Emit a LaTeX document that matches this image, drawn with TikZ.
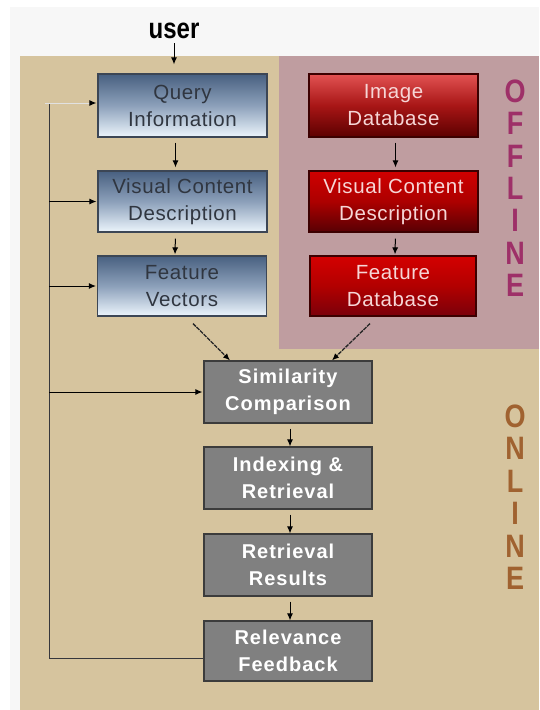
\documentclass[tikz,border=0pt]{standalone}
\usepackage{fontspec}
\setmainfont{Liberation Sans}
\newfontfamily\boxfont[LetterSpace=3]{Liberation Sans}
\newfontfamily\boxfontb[LetterSpace=5]{Liberation Sans Bold}
\newfontfamily\labfont{Liberation Sans Bold}
\usetikzlibrary{calc,arrows.meta}
\definecolor{lightbg}{RGB}{247,247,247}
\definecolor{tanbg}{RGB}{214,196,158}
\definecolor{pinkbg}{RGB}{191,157,160}
\definecolor{bluedraw}{RGB}{60,70,85}
\definecolor{bluetext}{RGB}{48,54,64}
\definecolor{bluetop}{RGB}{72,96,128}
\definecolor{bluemid}{RGB}{140,160,186}
\definecolor{bluebot}{RGB}{236,245,252}
\definecolor{reddraw}{RGB}{60,0,0}
\definecolor{redtext}{RGB}{246,214,214}
\definecolor{greyfill}{RGB}{128,128,128}
\definecolor{greydraw}{RGB}{60,60,60}
\definecolor{offcol}{RGB}{158,48,104}
\definecolor{oncol}{RGB}{160,98,48}
\definecolor{fbcol}{RGB}{55,55,60}
\definecolor{fblight}{RGB}{225,225,225}
\begin{document}
\begin{tikzpicture}[x=1pt,y=-1pt,
  box/.style={draw, line width=1.2pt, minimum width=169pt, minimum height=62pt,
    inner sep=0pt, align=center, font=\fontsize{20.5}{27}\selectfont\boxfont},
  bluebox/.style={box, draw=bluedraw, text=bluetext,
    top color=bluetop, bottom color=bluebot, middle color=bluemid},
  redbox/.style={box, draw=reddraw, text=redtext},
  greybox/.style={box, minimum width=168pt, draw=greydraw, fill=greyfill, text=white,
    font=\fontsize{20}{27}\selectfont\boxfontb},
  arr/.style={-{Latex[length=7pt,width=6pt,color=black]}, line width=1pt, black},
  diag/.style={arr, line width=1.3pt, color=black!85, dash pattern=on 4pt off 1pt},
  fbline/.style={line width=1pt, fbcol},
  sidelab/.style={inner sep=0pt, font=\fontsize{27}{27}\selectfont\labfont}
]
\useasboundingbox (0,0) rectangle (539,710);
\fill[white] (0,0) rectangle (539,710);
\fill[lightbg] (10,7) rectangle (539,710);
\fill[tanbg] (20,56) rectangle (539,710);
\fill[pinkbg] (279,56) rectangle (539,349);

% user label
\node[inner sep=0pt, anchor=south, font=\fontsize{24}{24}\selectfont\labfont] (user) at (174,39)
  {\scalebox{1}[1.2]{user}};

% left column
\node[bluebox, minimum height=63pt] (query) at (182.5,105.5) {Query\\Information};
\node[bluebox, minimum height=61pt] (vcd) at (182.5,201.5) {Visual Content\\Description};
\node[bluebox, minimum height=60pt] (fv) at (182,286) {Feature\\Vectors};

% right column
\node[redbox, minimum height=63pt,
  top color={rgb,255:red,226;green,82;blue,82}, bottom color={rgb,255:red,92;green,0;blue,0},
  middle color={rgb,255:red,168;green,22;blue,22}] (imgdb) at (393.5,105.5) {Image\\Database};
\node[redbox, minimum height=61pt,
  top color={rgb,255:red,208;green,0;blue,0}, bottom color={rgb,255:red,88;green,0;blue,4},
  middle color={rgb,255:red,172;green,0;blue,0}] (vcdr) at (393.5,201.5) {Visual Content\\Description};
\node[redbox, minimum width=166pt, minimum height=60pt,
  top color={rgb,255:red,212;green,0;blue,0}, bottom color={rgb,255:red,122;green,0;blue,10},
  middle color={rgb,255:red,178;green,0;blue,0}] (fdb) at (393,286) {Feature\\Database};

% grey column
\node[greybox] (sim) at (288,392) {Similarity\\Comparison};
\node[greybox] (idx) at (288,478) {Indexing \&\\Retrieval};
\node[greybox] (res) at (288,565) {Retrieval\\Results};
\node[greybox, minimum height=60pt] (rel) at (288,651) {Relevance\\Feedback};

% side labels
\node[sidelab, text=offcol] (offline) at (515,193)
  {\scalebox{1}[1.2]{\begin{tabular}{@{}c@{}}O\\F\\F\\L\\I\\N\\E\end{tabular}}};
\node[sidelab, text=oncol] (online) at (515,502)
  {\scalebox{1}[1.2]{\begin{tabular}{@{}c@{}}O\\N\\L\\I\\N\\E\end{tabular}}};

% arrows
\draw[arr, shorten <=4pt, shorten >=9pt] (user.south) -- (query.north -| user.south);
\draw[arr, shorten <=5pt, shorten >=3pt] ([xshift=-7pt]query.south) -- ([xshift=-7pt]vcd.north);
\draw[arr, shorten <=6pt, shorten >=1pt] ([xshift=-7pt]vcd.south) -- ([xshift=-7pt]fv.north);
\draw[arr, shorten <=5pt, shorten >=3pt] ([xshift=2pt]imgdb.south) -- ([xshift=2pt]vcdr.north);
\draw[arr, shorten <=6pt, shorten >=1pt] ([xshift=2pt]vcdr.south) -- ([xshift=2pt]fdb.north);
\draw[arr, shorten <=5pt] ([xshift=2pt]sim.south) -- ([xshift=2pt]idx.north);
\draw[arr, shorten <=5pt] ([xshift=2pt]idx.south) -- ([xshift=2pt]res.north);
\draw[arr, shorten <=5pt] ([xshift=2pt]res.south) -- ([xshift=2pt]rel.north);
\draw[diag] ($(fv.south)+(11,7)$) -- ($(sim.north)+(-58,0)$);
\draw[diag] ($(fdb.south)+(-23,7)$) -- ($(sim.north)+(44,0)$);

% feedback loop
\coordinate (fbtop) at (49,103);
\coordinate (fbbot) at (49,658);
\coordinate (qin) at (45,103);
\draw[fbline] ($(rel.west)+(0,7)$) -- (fbbot) -- (fbtop);
\draw[arr, fblight, shorten >=1pt] (qin) -- (query.west |- qin);
\draw[arr, shorten >=1pt] (fbtop |- vcd.west) -- (vcd.west);
\draw[arr, shorten >=1pt] (fbtop |- fv.west) -- (fv.west);
\draw[arr, shorten >=1pt] (fbtop |- sim.west) -- (sim.west);
\end{tikzpicture}
\end{document}
